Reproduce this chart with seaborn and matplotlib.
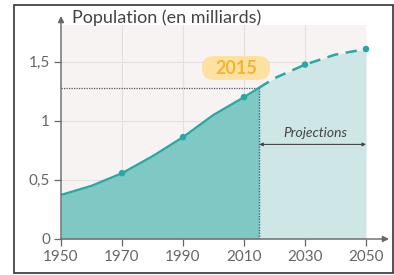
import matplotlib
matplotlib.use("Agg")
import matplotlib.pyplot as plt
import seaborn as sns
import pandas as pd
from matplotlib.patches import FancyBboxPatch, Rectangle
from matplotlib.transforms import IdentityTransform

# Data (billions)
years_obs = [1950, 1960, 1970, 1980, 1990, 2000, 2010, 2015]
pop_obs = [0.373, 0.45, 0.557, 0.70, 0.862, 1.05, 1.20, 1.28]
years_proj = [2015, 2020, 2030, 2040, 2050]
pop_proj = [1.28, 1.36, 1.475, 1.56, 1.607]
marker_years = [1970, 1990, 2010, 2030, 2050]
marker_pop = [0.557, 0.862, 1.20, 1.475, 1.607]
xticks = [1950, 1970, 1990, 2010, 2030, 2050]
yticks = [0, 0.5, 1, 1.5]
ytick_labels = ["0", "0,5", "1", "1,5"]
title = "Population (en milliards)"
year_now = 2015
pop_now = 1.28

sns.set_theme(style="white")
plt.rcParams['font.family'] = ['Lato', 'DejaVu Sans']

W, H = 394, 275
fig = plt.figure(figsize=(W / 100, H / 100), dpi=100)
fig.patch.set_facecolor("white")

# outer frame
fig.patches.append(Rectangle((14 / W, 1 - 273 / H), (393 - 14) / W, (273 - 5) / H,
                             transform=fig.transFigure, fill=False,
                             edgecolor="#333333", linewidth=1.2))

ax = fig.add_axes([61 / W, 1 - 239 / H, (366 - 61) / W, (239 - 25) / H])
ax.set_facecolor("#f7f3f3")
ax.set_xlim(1950, 2050)
ax.set_ylim(0, 1.81)

grid_c = "#e5dfdf"
for x in xticks[1:]:
    ax.axvline(x, color=grid_c, lw=0.8, zorder=0)
for y in yticks[1:]:
    ax.axhline(y, color=grid_c, lw=0.8, zorder=0)

dark_fill = "#7fc8c4"
light_fill = "#cfe6e6"
line_c = "#26a9a4"

ax.fill_between(years_obs, pop_obs, 0, color=dark_fill, lw=0, zorder=1)
ax.fill_between(years_proj, pop_proj, 0, color=light_fill, lw=0, zorder=1)

df_obs = pd.DataFrame({"year": years_obs, "pop": pop_obs})
df_proj = pd.DataFrame({"year": years_proj, "pop": pop_proj})
df_mk = pd.DataFrame({"year": marker_years, "pop": marker_pop})
sns.lineplot(data=df_obs, x="year", y="pop", ax=ax, color=line_c, lw=1.6, zorder=3)
sns.lineplot(data=df_proj, x="year", y="pop", ax=ax, color=line_c, lw=1.8,
             dashes=False, linestyle=(0, (4.5, 3)), zorder=3)
sns.scatterplot(data=df_mk, x="year", y="pop", ax=ax, color=line_c, s=22,
                edgecolor="none", zorder=4, clip_on=False)

# reference lines at 2015
ax.plot([1950, year_now], [pop_now, pop_now], color="#555555", lw=0.9,
        linestyle=(0, (1, 1)), zorder=2)
ax.plot([year_now, year_now], [0, pop_now], color="#2a6f6c", lw=1.0,
        linestyle=(0, (1, 1)), zorder=2)

# 2015 label (pill box in pixel coordinates)
box = FancyBboxPatch((202, H - 80), 68, 24,
                     boxstyle="round,pad=0,rounding_size=12",
                     transform=IdentityTransform(),
                     facecolor="#fde1a0", edgecolor="none", zorder=5)
fig.patches.append(box)
fig.text(236 / W, 1 - 68.5 / H, "2015", ha="center", va="center", fontsize=13,
         fontweight="bold", color="#f2b431", zorder=6)

# Projections
ax.text(2033.3, 0.90, "Projections", ha="center", va="center", fontsize=10,
        style="italic", color="#444444", zorder=6)
ax.annotate("", xy=(2050, 0.80), xytext=(year_now, 0.80),
            arrowprops=dict(arrowstyle="<|-|>", color="#444444", lw=0.8,
                            mutation_scale=5, shrinkA=0, shrinkB=0), zorder=6)

# axes styling
for s in ax.spines.values():
    s.set_visible(False)
ax.set_xticks(xticks)
ax.set_yticks(yticks)
ax.set_yticklabels(ytick_labels)
ax.tick_params(axis="both", colors="#666666", labelsize=11, length=5, width=0.9,
               direction="out", left=True, bottom=True, pad=3)
ax.set_xlabel("")
ax.set_ylabel("")

# axis arrows
ax.annotate("", xy=(61 / W, 1 - 16 / H), xytext=(61 / W, 1 - 239 / H),
            xycoords="figure fraction", textcoords="figure fraction",
            arrowprops=dict(arrowstyle="-|>", color="#666666", lw=1.0,
                            mutation_scale=9, shrinkA=0, shrinkB=0))
ax.annotate("", xy=(389 / W, 1 - 239 / H), xytext=(61 / W, 1 - 239 / H),
            xycoords="figure fraction", textcoords="figure fraction",
            arrowprops=dict(arrowstyle="-|>", color="#666666", lw=1.0,
                            mutation_scale=9, shrinkA=0, shrinkB=0))

fig.text(72 / W, 1 - 18 / H, title, ha="left", va="center", fontsize=13,
         color="#444444")

fig.savefig("out.png", dpi=100)
